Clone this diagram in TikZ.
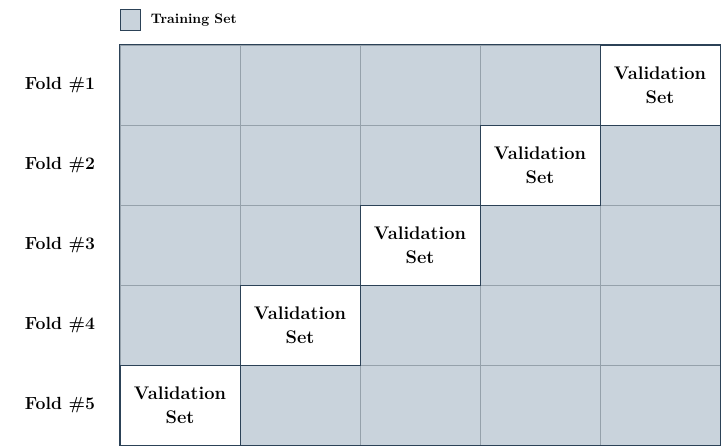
\documentclass[tikz,border=0pt]{standalone}
\usetikzlibrary{positioning}
\definecolor{trainfill}{HTML}{C9D3DC}
\definecolor{gridline}{HTML}{95A1AB}
\definecolor{darkedge}{HTML}{2C4257}
\begin{document}
\begin{tikzpicture}[
    cell/.style={draw=gridline, fill=trainfill, rectangle, minimum width=3cm, minimum height=2cm, inner sep=0pt, line width=0.5pt},
    valid/.style={draw=darkedge, fill=white, rectangle, minimum width=3cm, minimum height=2cm, inner sep=0pt, align=center, font=\fontsize{13}{17}\selectfont\bfseries, line width=0.6pt},
    fold/.style={font=\fontsize{12.5}{15}\selectfont\bfseries}]
    \useasboundingbox (0,0) rectangle (18.025,11.15);
    % legend
    \node[draw=darkedge, fill=trainfill, rectangle, minimum size=0.52cm, inner sep=0pt, line width=0.5pt] (legbox) at (3.26,10.65) {};
    \node[right=0.12cm of legbox, font=\fontsize{9.8}{11}\selectfont\bfseries] (legtext) {Training Set};
    % folds and training cells
    \foreach \r in {1,...,5} {
        \node[fold] (fold\r) at (1.5,11.025-2*\r) {Fold \#\r};
        \foreach \c in {1,...,5} {
            \node[cell] (c\r\c) at (1.5+3*\c,11.025-2*\r) {};
        }
    }
    % validation cells
    \foreach \r in {1,...,5} {
        \pgfmathtruncatemacro\vc{6-\r}
        \node[valid] (v\r) at (c\r\vc) {Validation\\Set};
    }
    % outer frame
    \draw[darkedge, line width=0.6pt] (c11.north west) rectangle (c55.south east);
\end{tikzpicture}
\end{document}
